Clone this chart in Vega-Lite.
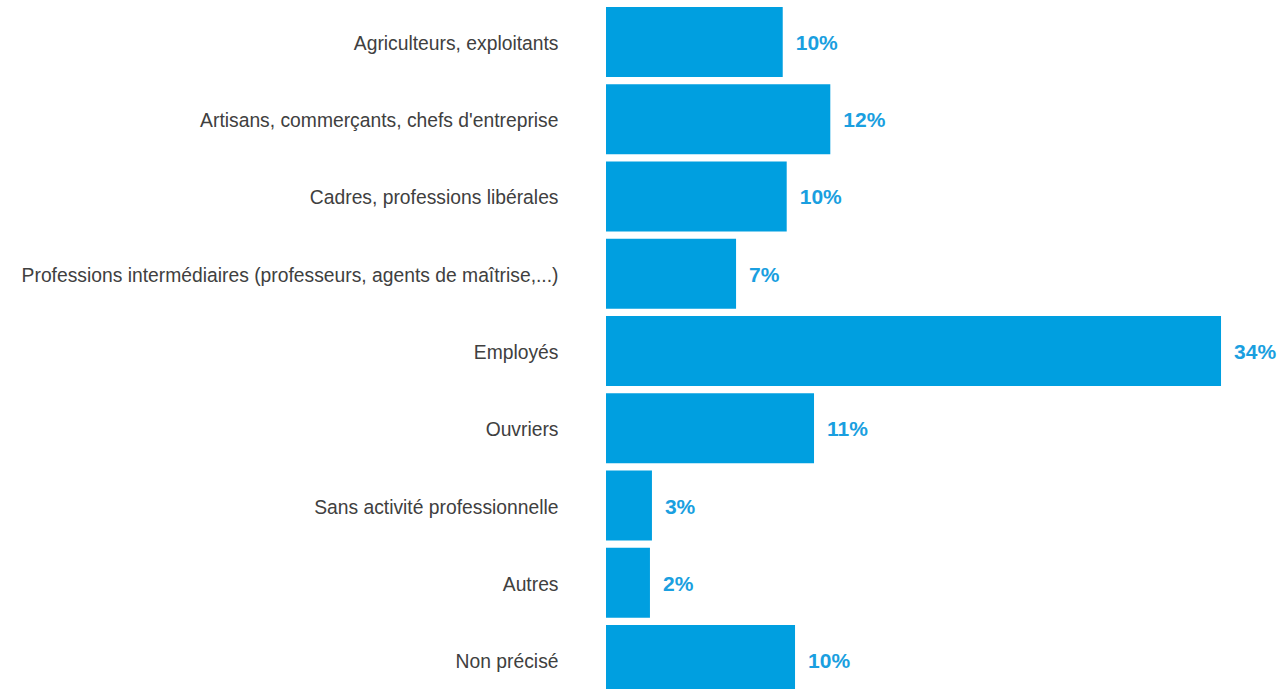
{
  "$schema": "https://vega.github.io/schema/vega-lite/v6.json",
  "width": 672,
  "height": 702,
  "autosize": "none",
  "padding": {"left": 606, "top": 0, "right": 0, "bottom": 0},
  "background": "white",
  "config": {"view": {"stroke": null}},
  "data": {
    "values": [
      {"categorie": "Agriculteurs, exploitants", "part": 0.0977, "label": "10%"},
      {"categorie": "Artisans, commerçants, chefs d'entreprise", "part": 0.124, "label": "12%"},
      {"categorie": "Cadres, professions libérales", "part": 0.0999, "label": "10%"},
      {"categorie": "Professions intermédiaires (professeurs, agents de maîtrise,...)", "part": 0.0719, "label": "7%"},
      {"categorie": "Employés", "part": 0.34, "label": "34%"},
      {"categorie": "Ouvriers", "part": 0.115, "label": "11%"},
      {"categorie": "Sans activité professionnelle", "part": 0.0254, "label": "3%"},
      {"categorie": "Autres", "part": 0.0243, "label": "2%"},
      {"categorie": "Non précisé", "part": 0.1045, "label": "10%"}
    ]
  },
  "encoding": {
    "y": {
      "field": "categorie",
      "type": "nominal",
      "sort": null,
      "scale": {"paddingInner": 0.093, "paddingOuter": 0.09},
      "axis": {
        "title": null,
        "ticks": false,
        "tickSize": 0,
        "domain": false,
        "labelPadding": 48,
        "labelOffset": 2,
        "labelFont": "Liberation Sans",
        "labelFontSize": 19.3,
        "labelColor": "#404040",
        "labelLimit": 1000
      }
    },
    "x": {
      "field": "part",
      "type": "quantitative",
      "scale": {"domain": [0, 0.3715], "nice": false},
      "axis": null
    }
  },
  "layer": [
    {"mark": {"type": "bar", "color": "#009fe0"}},
    {
      "mark": {
        "type": "text",
        "align": "left",
        "baseline": "middle",
        "dx": 13,
        "dy": 2,
        "font": "Liberation Sans",
        "fontSize": 21,
        "fontWeight": "bold",
        "color": "#1a9fe0"
      },
      "encoding": {"text": {"field": "label"}}
    }
  ]
}
